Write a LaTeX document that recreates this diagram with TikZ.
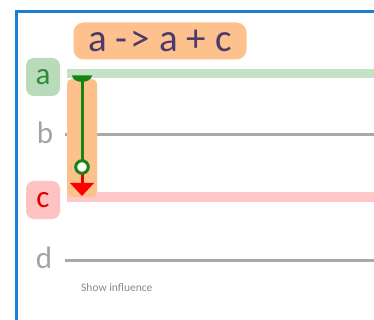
\documentclass[tikz,border=0pt]{standalone}
\usepackage{fontspec}
\setmainfont{Carlito}
\definecolor{frameblue}{HTML}{1A7FD4}
\definecolor{boxorange}{HTML}{FDC18E}
\definecolor{titletext}{HTML}{4B3A6B}
\definecolor{lightgreen}{HTML}{C4E3C4}
\definecolor{boxgreen}{HTML}{B9DBB9}
\definecolor{textgreen}{HTML}{2E8B35}
\definecolor{darkgreen}{HTML}{168516}
\definecolor{pinkline}{HTML}{FFC8C8}
\definecolor{pinkbox}{HTML}{FFC2C2}
\definecolor{textred}{HTML}{E00000}
\definecolor{grayline}{HTML}{A9A9A9}
\definecolor{graytext}{HTML}{A3A3A3}
\tikzset{
  varlabel/.style={inner sep=0pt, minimum width=34pt, minimum height=38pt, rounded corners=8pt, font=\fontsize{31}{31}\selectfont},
  trackline/.style={line width=#1},
}
\begin{document}
\begin{tikzpicture}[x=1pt,y=-1pt]
\useasboundingbox (0,0) rectangle (374,320);
\fill[white] (0,0) rectangle (374,320);
% frame
\fill[frameblue] (15,10) rectangle (374,13);
\fill[frameblue] (15,10) rectangle (18,320);
% coordinates for tracks
\coordinate (aL) at (67,74);  \coordinate (aR) at (374,74);
\coordinate (bL) at (65,135); \coordinate (bR) at (374,135);
\coordinate (cL) at (67,197); \coordinate (cR) at (374,197);
\coordinate (dL) at (65,260); \coordinate (dR) at (374,260);
% tracks
\draw[lightgreen, trackline=9pt] (aL) -- (aR);
\draw[grayline, trackline=3pt] (bL) -- (bR);
\draw[pinkline, trackline=9pt] (cL) -- (cR);
\draw[grayline, trackline=3pt] (dL) -- (dR);
% labels
\node[varlabel, fill=boxgreen, text=textgreen] (la) at (43,77) {a};
\node[varlabel, text=graytext] (lb) at (45,133) {b};
\node[varlabel, fill=pinkbox, text=textred] (lc) at (43,200) {c};
\node[varlabel, text=graytext] (ld) at (44,258) {d};
% title
\node[fill=boxorange, rounded corners=10pt, minimum width=173pt, minimum height=37pt, inner sep=0pt,
      text=titletext, font=\fontsize{39}{39}\selectfont] (title) at (160,41)
      {a\hspace{9pt}-\hspace{3pt}>\hspace{9pt}a\hspace{9pt}+\hspace{9pt}c};
% orange bar
\fill[boxorange, rounded corners=5pt] (67,79) rectangle (97,197);
% influence arrow
\coordinate (tee) at (82,77);
\coordinate (circ) at (82,167);
\coordinate (tri) at (82,183);
\fill[darkgreen] (72,75.5) -- (92,75.5) .. controls (91,84) and (73,84) .. cycle;
\draw[darkgreen, line width=3pt] (tee) -- (82,160.5);
\draw[textred, line width=3pt] (82,173.5) -- (tri);
\fill[red] (70,183) -- (94,183) -- (82,196) -- cycle;
\draw[darkgreen, line width=3pt, fill=white] (circ) circle (6.3);
% footer
\node[anchor=west, text=graytext!85!black, font=\fontsize{11.5}{11.5}\selectfont, inner sep=0pt] (foot) at (81,288) {Show influence};
\end{tikzpicture}
\end{document}
